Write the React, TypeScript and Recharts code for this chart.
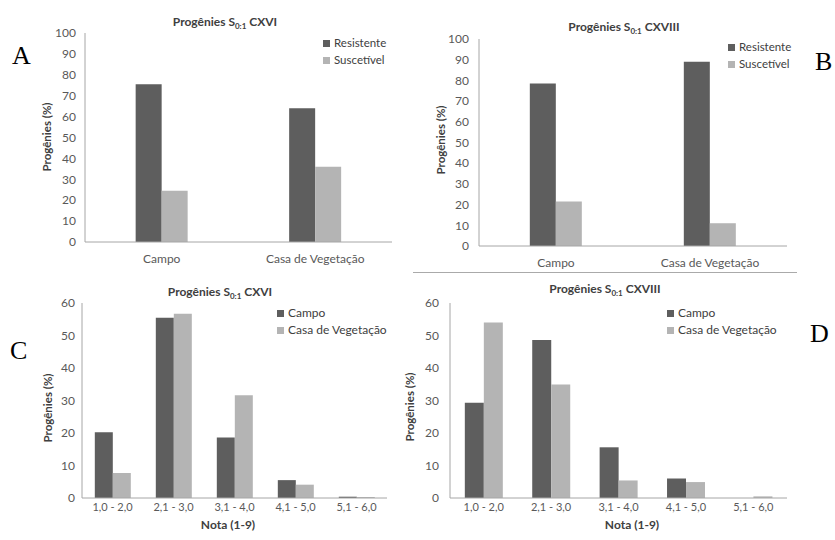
import React from "react";
import { BarChart, Bar, XAxis, YAxis, Legend } from "recharts";

const groupCats = ["Campo", "Casa de Vegetação"];
const cxviResistente = [75.5, 64];
const cxviSuscetivel = [24.5, 36];
const cxviiiResistente = [78.5, 89];
const cxviiiSuscetivel = [21.5, 11];

const notaCats = ["1,0 - 2,0", "2,1 - 3,0", "3,1 - 4,0", "4,1 - 5,0", "5,1 - 6,0"];
const cxviCampo = [20.2, 55.5, 18.6, 5.5, 0.4];
const cxviCasa = [7.7, 56.7, 31.6, 4.1, 0.3];
const cxviiiCampo = [29.3, 48.6, 15.6, 6.0, 0];
const cxviiiCasa = [54, 34.9, 5.4, 4.9, 0.5];

const pctTicks = [0, 10, 20, 30, 40, 50, 60, 70, 80, 90, 100];
const notaTicks = [0, 10, 20, 30, 40, 50, 60];

const DARK = "#5e5e5e";
const LIGHT = "#b4b4b4";
const FRAME = "#a6a6a6";
const TEXT = "#595959";
const FONT = "Lato, 'Liberation Sans', sans-serif";

const build = (cats: string[], a: number[], b: number[], ka: string, kb: string) =>
  cats.map((c, i) => ({ cat: c, [ka]: a[i], [kb]: b[i] }));

const Title = ({ x, y, name }: { x: number; y: number; name: string }) => (
  <text x={x} y={y} textAnchor="middle" fontFamily={FONT} fontWeight="bold" fontSize={12} fill="#404040">
    <tspan>Progênies S</tspan>
    <tspan dy={3} fontSize={8}>0:1</tspan>
    <tspan dy={-3}> {name}</tspan>
  </text>
);

interface PanelProps {
  left: number;
  top: number;
  width: number;
  data: any[];
  keys: [string, string];
  ticks: number[];
  max: number;
  margin: { top: number; right: number; bottom: number; left: number };
  gap: string;
  tickGapX: number;
  tickGapY: number;
  xFont: number;
  title: { x: number; y: number; name: string };
  ylab: { x: number; y: number };
  xlab?: { x: number; y: number };
  letter: { x: number; y: number; t: string };
  legend: { x: number; y: number; size: number; lh: number };
}

const Panel = (p: PanelProps) => (
  <div style={{ position: "absolute", left: p.left, top: p.top }}>
    <BarChart
      width={p.width}
      height={270}
      data={p.data}
      margin={p.margin}
      barGap={0}
      barCategoryGap={p.gap}
    >
      <XAxis
        dataKey="cat"
        tickLine={false}
        tickSize={0}
        tickMargin={p.tickGapX}
        axisLine={{ stroke: FRAME }}
        tick={{ fontSize: p.xFont, fill: TEXT, fontFamily: FONT }}
        interval={0}
        height={22}
      />
      <XAxis xAxisId="top" orientation="top" height={0} tick={false} tickLine={false} axisLine={{ stroke: FRAME }} />
      <YAxis
        domain={[0, p.max]}
        ticks={p.ticks}
        tickLine={false}
        tickSize={0}
        tickMargin={p.tickGapY}
        axisLine={{ stroke: FRAME }}
        tick={{ fontSize: 12, fill: TEXT, fontFamily: FONT }}
        width={30}
      />
      <YAxis yAxisId="right" orientation="right" width={0} tick={false} tickLine={false} axisLine={{ stroke: FRAME }} />
      <Legend
        layout="vertical"
        align="center"
        verticalAlign="middle"
        iconType="square"
        iconSize={7}
        wrapperStyle={{
          left: p.legend.x,
          top: p.legend.y - p.legend.lh / 2,
          width: 120,
          whiteSpace: "nowrap",
          fontFamily: FONT,
          fontSize: p.legend.size,
          lineHeight: `${p.legend.lh}px`,
        }}
        formatter={(v: string) => <span style={{ color: "#404040" }}>{v}</span>}
      />
      <Bar dataKey={p.keys[0]} fill={DARK} isAnimationActive={false} />
      <Bar dataKey={p.keys[1]} fill={LIGHT} isAnimationActive={false} />
      <Title x={p.title.x} y={p.title.y} name={p.title.name} />
      <text
        x={p.ylab.x}
        y={p.ylab.y}
        transform={`rotate(-90 ${p.ylab.x} ${p.ylab.y})`}
        textAnchor="middle"
        dominantBaseline="central"
        fontFamily={FONT}
        fontWeight="bold"
        fontSize={11.5}
        fill="#404040"
      >
        Progênies (%)
      </text>
      {p.xlab && (
        <text x={p.xlab.x} y={p.xlab.y} textAnchor="middle" fontFamily={FONT} fontWeight="bold" fontSize={12} fill="#404040">
          Nota (1-9)
        </text>
      )}
      <text x={p.letter.x} y={p.letter.y} fontFamily="'Liberation Serif', serif" fontSize={26} fill="#000">
        {p.letter.t}
      </text>
    </BarChart>
  </div>
);

export default function App() {
  const dataA = build(groupCats, cxviResistente, cxviSuscetivel, "Resistente", "Suscetível");
  const dataB = build(groupCats, cxviiiResistente, cxviiiSuscetivel, "Resistente", "Suscetível");
  const dataC = build(notaCats, cxviCampo, cxviCasa, "Campo", "Casa de Vegetação");
  const dataD = build(notaCats, cxviiiCampo, cxviiiCasa, "Campo", "Casa de Vegetação");

  return (
    <div style={{ position: "absolute", left: 0, top: 0, width: 835, height: 540, background: "#fff" }}>
      <Panel
        left={0}
        top={0}
        width={415}
        data={dataA}
        keys={["Resistente", "Suscetível"]}
        ticks={pctTicks}
        max={100}
        margin={{ top: 33, right: 23, bottom: 6, left: 55 }}
        gap="33%"
        tickGapX={12}
        tickGapY={9}
        xFont={12}
        title={{ x: 225, y: 26, name: "CXVI" }}
        ylab={{ x: 46, y: 137 }}
        letter={{ x: 12, y: 64, t: "A" }}
        legend={{ x: 323, y: 42, size: 11.5, lh: 17 }}
      />
      <Panel
        left={415}
        top={0}
        width={420}
        data={dataB}
        keys={["Resistente", "Suscetível"]}
        ticks={pctTicks}
        max={100}
        margin={{ top: 39, right: 48, bottom: 2, left: 34 }}
        gap="33%"
        tickGapX={12}
        tickGapY={10}
        xFont={12}
        title={{ x: 209, y: 31, name: "CXVIII" }}
        ylab={{ x: 25, y: 140 }}
        letter={{ x: 400, y: 70, t: "B" }}
        legend={{ x: 313, y: 46, size: 11.5, lh: 17 }}
      />
      <Panel
        left={0}
        top={270}
        width={415}
        data={dataC}
        keys={["Campo", "Casa de Vegetação"]}
        ticks={notaTicks}
        max={60}
        margin={{ top: 33, right: 28, bottom: 20, left: 52 }}
        gap="21%"
        tickGapX={5}
        tickGapY={7}
        xFont={11}
        title={{ x: 220, y: 26, name: "CXVI" }}
        ylab={{ x: 47, y: 138 }}
        xlab={{ x: 228, y: 259 }}
        letter={{ x: 10, y: 89, t: "C" }}
        legend={{ x: 277, y: 42, size: 12, lh: 17 }}
      />
      <Panel
        left={395}
        top={270}
        width={440}
        data={dataD}
        keys={["Campo", "Casa de Vegetação"]}
        ticks={notaTicks}
        max={60}
        margin={{ top: 33, right: 48, bottom: 20, left: 25 }}
        gap="22%"
        tickGapX={5}
        tickGapY={11}
        xFont={11}
        title={{ x: 210, y: 23, name: "CXVIII" }}
        ylab={{ x: 14, y: 137 }}
        xlab={{ x: 237, y: 259 }}
        letter={{ x: 415, y: 72, t: "D" }}
        legend={{ x: 272, y: 42, size: 12, lh: 17 }}
      />
      <div style={{ position: "absolute", left: 413, top: 272, width: 384, height: 1, background: "#aaa" }} />
    </div>
  );
}
